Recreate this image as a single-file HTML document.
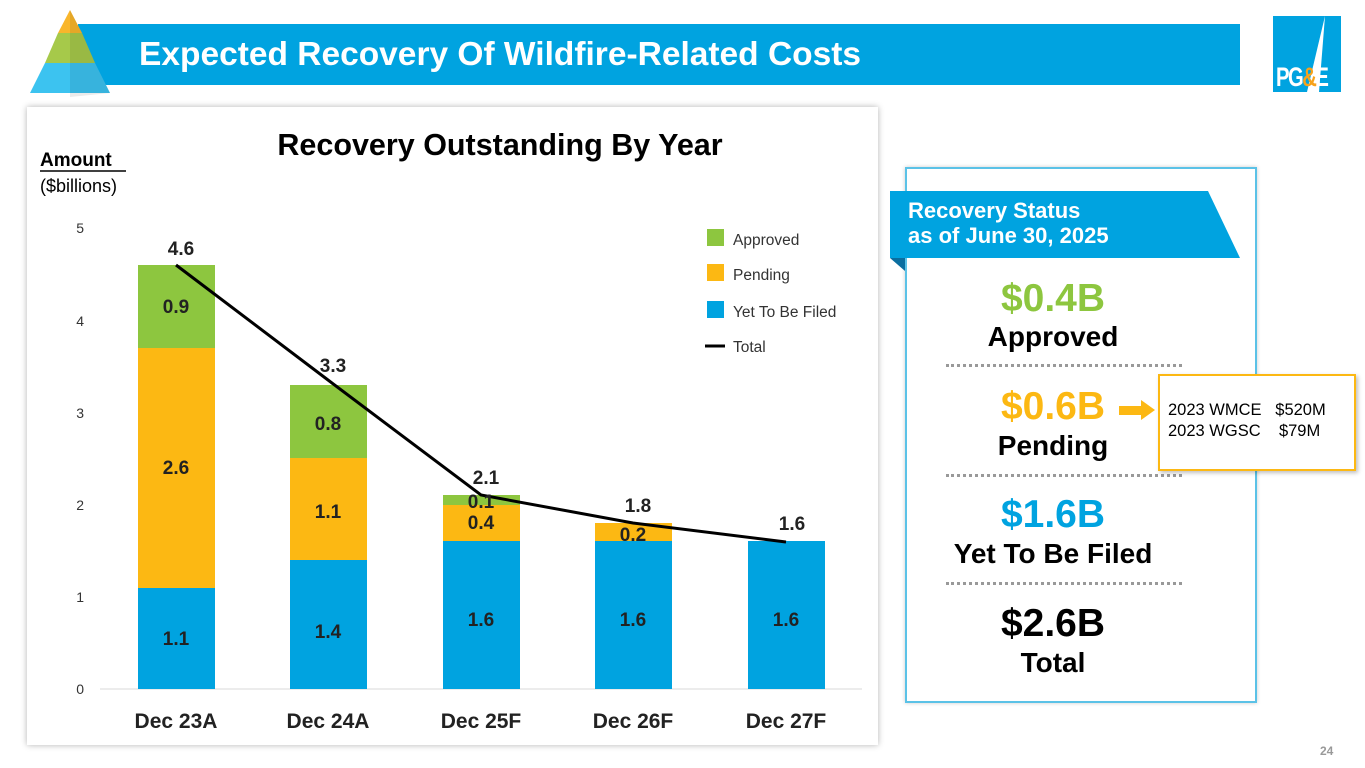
<!DOCTYPE html>
<html><head><meta charset="utf-8"><style>
body{margin:0;width:1365px;height:768px;background:#fff;font-family:"Liberation Sans",Arial,sans-serif;position:relative;overflow:hidden}
.abs{position:absolute}
</style></head><body>
<div class="abs" style="left:78px;top:24px;width:1162px;height:61px;background:#00a3e0"></div>
<div class="abs" style="left:139px;top:36px;color:#fff;font-weight:bold;font-size:33.5px">Expected Recovery Of Wildfire-Related Costs</div>
<svg class="abs" style="left:20px;top:5px" width="100" height="95">
<polygon points="50,5 62,28 38,28" fill="#f9b62b"/>
<polygon points="38,28 62,28 75,58 25,58" fill="#a6c94a"/>
<polygon points="25,58 75,58 90,88 10,88" fill="#3cc3f0"/>
<polygon points="50,5 62,28 75,58 90,88 50,92" fill="#000" opacity="0.08"/>
</svg>
<div class="abs" style="left:1273px;top:16px;width:68px;height:76px;background:#00a3e0"></div>
<svg class="abs" style="left:1273px;top:16px" width="68" height="76"><polygon points="52,0 46,76 34,76" fill="#fff"/></svg>
<div class="abs" style="left:1276px;top:62px;font-weight:bold;font-size:27px;color:#fff;letter-spacing:-2px;transform:scaleX(0.75);transform-origin:left">PG<span style="color:#f7a21b">&amp;</span>E</div>
<div class="abs" style="left:27px;top:107px;width:851px;height:638px;background:#fff;box-shadow:0 0 6px rgba(0,0,0,0.3)"></div>
<svg class="abs" style="left:0;top:0" width="900" height="768" font-family="Liberation Sans, Arial, sans-serif">
<text x="500" y="155" text-anchor="middle" font-size="30.5" font-weight="bold">Recovery Outstanding By Year</text>
<text x="40" y="166" font-size="19" font-weight="bold">Amount</text>
<line x1="40" y1="171" x2="126" y2="171" stroke="#000" stroke-width="1.5"/>
<text x="40" y="192" font-size="18">($billions)</text>
<g font-size="14" fill="#333" text-anchor="end">
<text x="84" y="694">0</text><text x="84" y="602">1</text><text x="84" y="510">2</text><text x="84" y="418">3</text><text x="84" y="326">4</text><text x="84" y="233">5</text></g>
<line x1="100" y1="689" x2="862" y2="689" stroke="#d9d9d9"/>
<g>
<rect x="138" y="588" width="77" height="101" fill="#00a3e0"/><rect x="138" y="348" width="77" height="240" fill="#fcb813"/><rect x="138" y="265" width="77" height="83" fill="#8dc63f"/>
<rect x="290" y="560" width="77" height="129" fill="#00a3e0"/><rect x="290" y="458" width="77" height="102" fill="#fcb813"/><rect x="290" y="385" width="77" height="73" fill="#8dc63f"/>
<rect x="443" y="541" width="77" height="148" fill="#00a3e0"/><rect x="443" y="505" width="77" height="36" fill="#fcb813"/><rect x="443" y="495" width="77" height="10" fill="#8dc63f"/>
<rect x="595" y="541" width="77" height="148" fill="#00a3e0"/><rect x="595" y="523" width="77" height="18" fill="#fcb813"/>
<rect x="748" y="541" width="77" height="148" fill="#00a3e0"/>
</g>
<polyline points="176,265 328,380 481,495 633,523 786,542" fill="none" stroke="#000" stroke-width="3"/>
<g font-size="19" font-weight="bold" text-anchor="middle" fill="#222">
<text x="176" y="645">1.1</text><text x="328" y="638">1.4</text><text x="481" y="626">1.6</text><text x="633" y="626">1.6</text><text x="786" y="626">1.6</text>
<text x="176" y="474">2.6</text><text x="328" y="518">1.1</text><text x="481" y="529">0.4</text><text x="633" y="541">0.2</text>
<text x="176" y="313">0.9</text><text x="328" y="430">0.8</text><text x="481" y="508">0.1</text>
<text x="181" y="255">4.6</text><text x="333" y="372">3.3</text><text x="486" y="484">2.1</text><text x="638" y="512">1.8</text><text x="792" y="530">1.6</text>
</g>
<g font-size="21" font-weight="bold" text-anchor="middle" fill="#222">
<text x="176" y="728">Dec 23A</text><text x="328" y="728">Dec 24A</text><text x="481" y="728">Dec 25F</text><text x="633" y="728">Dec 26F</text><text x="786" y="728">Dec 27F</text>
</g>
<g font-size="15.5" fill="#333">
<rect x="707" y="229" width="17" height="17" fill="#8dc63f"/><text x="733" y="245">Approved</text>
<rect x="707" y="264" width="17" height="17" fill="#fcb813"/><text x="733" y="280">Pending</text>
<rect x="707" y="301" width="17" height="17" fill="#00a3e0"/><text x="733" y="317">Yet To Be Filed</text>
<line x1="705" y1="346" x2="725" y2="346" stroke="#000" stroke-width="3"/><text x="733" y="352">Total</text>
</g>
</svg>
<div class="abs" style="left:905px;top:167px;width:348px;height:532px;border:2px solid #5bc2e7;background:#fff;box-shadow:0 0 4px rgba(0,0,0,0.2)"></div>
<svg class="abs" style="left:890px;top:191px" width="352" height="80"><polygon points="0,0 318,0 350,67 0,67" fill="#00a3e0"/><polygon points="0,67 15,67 15,80" fill="#0a6ea0"/></svg>
<div class="abs" style="left:908px;top:198px;color:#fff;font-weight:bold;font-size:22px;line-height:25px">Recovery Status<br>as of June 30, 2025</div>
<div class="abs" style="left:953px;width:200px;text-align:center;top:277px;font-weight:bold;font-size:39px;color:#8dc63f">$0.4B</div>
<div class="abs" style="left:953px;width:200px;text-align:center;top:321px;font-weight:bold;font-size:28px">Approved</div>
<div class="abs" style="left:946px;top:364px;width:236px;border-top:3px dotted #999"></div>
<div class="abs" style="left:953px;width:200px;text-align:center;top:385px;font-weight:bold;font-size:39px;color:#fcb813">$0.6B</div>
<div class="abs" style="left:953px;width:200px;text-align:center;top:430px;font-weight:bold;font-size:28px">Pending</div>
<div class="abs" style="left:946px;top:474px;width:236px;border-top:3px dotted #999"></div>
<div class="abs" style="left:953px;width:200px;text-align:center;top:493px;font-weight:bold;font-size:39px;color:#00a3e0">$1.6B</div>
<div class="abs" style="left:913px;width:280px;text-align:center;top:538px;font-weight:bold;font-size:28px">Yet To Be Filed</div>
<div class="abs" style="left:946px;top:582px;width:236px;border-top:3px dotted #999"></div>
<div class="abs" style="left:953px;width:200px;text-align:center;top:602px;font-weight:bold;font-size:39px">$2.6B</div>
<div class="abs" style="left:953px;width:200px;text-align:center;top:647px;font-weight:bold;font-size:28px">Total</div>
<svg class="abs" style="left:1119px;top:398px" width="38" height="24"><rect x="0" y="8" width="24" height="9" fill="#fcb813"/><polygon points="22,2 36,12 22,22" fill="#fcb813"/></svg>
<div class="abs" style="left:1158px;top:374px;width:194px;height:93px;border:2px solid #fcb813;background:#fff;box-shadow:2px 2px 4px rgba(0,0,0,0.25)"></div>
<div class="abs" style="left:1168px;top:400px;font-size:16.5px;line-height:21px;white-space:pre">2023 WMCE   $520M
2023 WGSC    $79M</div>
<div class="abs" style="left:1320px;top:744px;font-size:12px;color:#999;font-weight:bold">24</div>
</body></html>
